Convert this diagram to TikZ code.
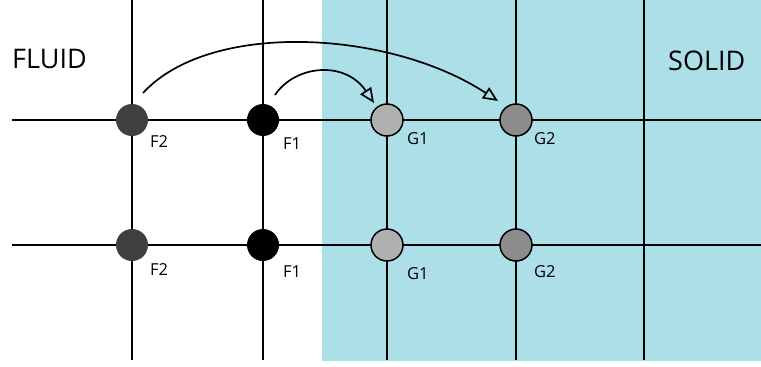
\documentclass[tikz,border=0pt]{standalone}
\usepackage{fontspec}
\setmainfont{Open Sans}
\usetikzlibrary{arrows.meta}
\definecolor{solidblue}{HTML}{ADDFE9}
\definecolor{ftwo}{HTML}{404040}
\definecolor{gone}{HTML}{B0B0B0}
\definecolor{gtwo}{HTML}{8C8C8C}
\tikzset{
  gridline/.style={line width=1.7pt, black},
  pt/.style={circle, minimum size=32pt, inner sep=0pt, line width=1.5pt},
  fpt/.style={pt, fill=#1, draw=none},
  gpt/.style={pt, fill=#1, draw=black},
  lab/.style={font=\fontsize{16.5}{18}\selectfont, anchor=base west, inner sep=0pt},
  big/.style={font=\fontsize{27}{30}\selectfont, inner sep=0pt},
  jump/.style={line width=1.7pt, -{Triangle[open, length=15pt, width=13pt, line width=1.7pt]}}
}
\begin{document}
\begin{tikzpicture}[x=1pt, y=-1pt]
\useasboundingbox (0,0) rectangle (761,367);
\fill[solidblue] (322,0) rectangle (761,361);
% grid
\foreach \x in {132,263,387,516,644} \draw[gridline] (\x,0) -- (\x,360);
\foreach \y in {120,245} \draw[gridline] (12,\y) -- (761,\y);
% points
\node[fpt=ftwo] (f2a) at (132,120) {};
\node[fpt=black] (f1a) at (263,120) {};
\node[gpt=gone] (g1a) at (387,120) {};
\node[gpt=gtwo] (g2a) at (516,120) {};
\node[fpt=ftwo] (f2b) at (132,245) {};
\node[fpt=black] (f1b) at (263,245) {};
\node[gpt=gone] (g1b) at (387,245) {};
\node[gpt=gtwo] (g2b) at (516,245) {};
% labels
\node[lab] (lf2a) at (150,147) {F2};
\node[lab] (lf1a) at (283,149) {F1};
\node[lab] (lg1a) at (407,144) {G1};
\node[lab] (lg2a) at (534,144) {G2};
\node[lab] (lf2b) at (150,275) {F2};
\node[lab] (lf1b) at (283,277) {F1};
\node[lab] (lg1b) at (407,279) {G1};
\node[lab] (lg2b) at (534,277) {G2};
\node[big, anchor=base west] (fluid) at (12,68) {FLUID};
\node[big, anchor=base west] (solid) at (668,70) {SOLID};
% arrows
\coordinate (s1) at (275,95);
\coordinate (t1) at (374,103);
\coordinate (s2) at (143,93);
\coordinate (t2) at (498,101);
\draw[jump] (s1) .. controls (295,65) and (345,60) .. (t1);
\draw[jump] (s2) .. controls (210,20) and (390,30) .. (t2);
\end{tikzpicture}
\end{document}
